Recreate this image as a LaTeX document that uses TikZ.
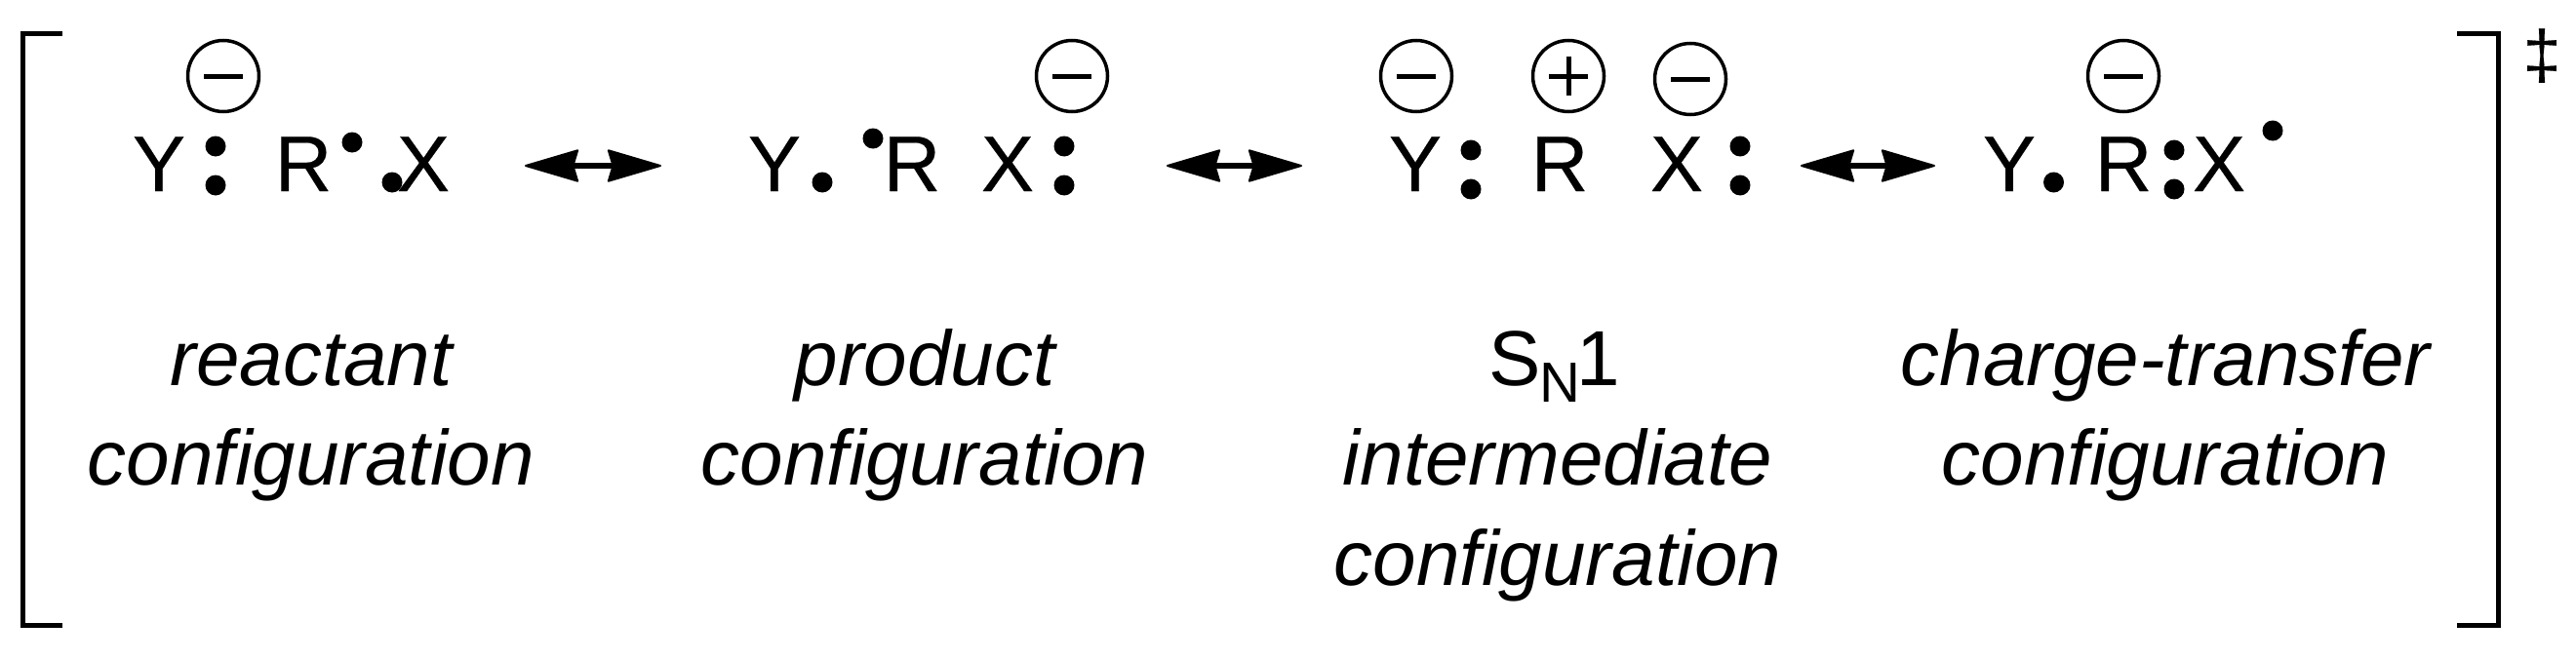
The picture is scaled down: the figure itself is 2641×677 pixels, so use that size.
\documentclass[tikz,border=0pt]{standalone}
\usepackage{fontspec}
\setmainfont{Liberation Sans}
\newfontfamily\atomfont[FakeBold=0.25]{Liberation Sans}
\usetikzlibrary{arrows.meta}
\tikzset{
  x=1pt,y=-1pt,
  atom/.style={anchor=base,inner sep=0pt,outer sep=0pt,font=\atomfont\fontsize{81}{81}\selectfont},
  lbl/.style={anchor=base,inner sep=0pt,outer sep=0pt,font=\fontsize{80}{80}\selectfont\itshape},
  lblr/.style={anchor=base,inner sep=0pt,outer sep=0pt,font=\fontsize{80}{80}\selectfont},
  edot/.style={fill=black,draw=none,circle,minimum size=21pt,inner sep=0pt,outer sep=0pt},
  chg/.style={draw=black,line width=3.5pt,circle,minimum size=73pt,inner sep=0pt,outer sep=0pt},
  brk/.style={draw=black,line width=5pt,line cap=butt},
  res/.style={draw=black,line width=5.5pt,
    {Stealth[length=58pt,width=34pt,inset=5pt,line width=2pt,round]}-{Stealth[length=58pt,width=34pt,inset=5pt,line width=2pt,round]}},
}
\newcommand{\minussign}[1]{\draw[line width=5pt] ([xshift=-20pt]#1.center) -- ([xshift=20pt]#1.center);}
\begin{document}
\begin{tikzpicture}
\useasboundingbox (0,0) rectangle (2641,677);
% brackets
\coordinate (lt) at (64,35); \coordinate (lc1) at (23,35); \coordinate (lc2) at (23,641); \coordinate (lb) at (64,641);
\draw[brk] (lt) -- (lc1) -- (lc2) -- (lb);
\coordinate (rt) at (2519,35); \coordinate (rc1) at (2561,35); \coordinate (rc2) at (2561,641); \coordinate (rb) at (2519,641);
\draw[brk] (rt) -- (rc1) -- (rc2) -- (rb);
\node[anchor=base,inner sep=0pt,font=\atomfont\fontsize{70}{70}\selectfont] (dd) at (2606,80) {‡};
% group 1
\node[atom] (y1) at (163,196) {Y};
\node[atom] (r1) at (311,196) {R};
\node[atom] (x1) at (434,196) {X};
\node[edot] (d11) at (221,150) {}; \node[edot] (d12) at (221,190) {};
\node[edot] (d13) at (361,146) {}; \node[edot] (d14) at (402,187) {};
\node[chg] (c1) at (229,78) {}; \minussign{c1}
% group 2
\node[atom] (y2) at (794,196) {Y};
\node[atom] (r2) at (935,196) {R};
\node[atom] (x2) at (1033,196) {X};
\node[edot] (d21) at (843,187) {}; \node[edot] (d22) at (895,142) {};
\node[edot] (d23) at (1091,150) {}; \node[edot] (d24) at (1091,190) {};
\node[chg] (c2) at (1099,78) {}; \minussign{c2}
% group 3
\node[atom] (y3) at (1451,196) {Y};
\node[atom] (r3) at (1599,196) {R};
\node[atom] (x3) at (1719,196) {X};
\node[edot] (d31) at (1508,154) {}; \node[edot] (d32) at (1508,194) {};
\node[edot] (d33) at (1784,150) {}; \node[edot] (d34) at (1784,190) {};
\node[chg] (c3) at (1452,78) {}; \minussign{c3}
\node[chg] (c4) at (1608,78) {}; \minussign{c4}
\draw[line width=5pt] ([yshift=-20pt]c4.center) -- ([yshift=20pt]c4.center);
\node[chg] (c5) at (1733,81) {}; \minussign{c5}
% group 4
\node[atom] (y4) at (2060,196) {Y};
\node[atom] (r4) at (2177,196) {R};
\node[atom] (x4) at (2275,196) {X};
\node[edot] (d41) at (2105.5,187) {};
\node[edot] (d42) at (2229,154) {}; \node[edot] (d43) at (2229,194) {};
\node[edot] (d44) at (2330,134) {};
\node[chg] (c6) at (2177,78) {}; \minussign{c6}
% arrows
\coordinate (a1l) at (538,170); \coordinate (a1r) at (678,170);
\coordinate (a2l) at (1196,170); \coordinate (a2r) at (1335,170);
\coordinate (a3l) at (1846,170); \coordinate (a3r) at (1984,170);
\draw[res] (a1l) -- (a1r);
\draw[res] (a2l) -- (a2r);
\draw[res] (a3l) -- (a3r);
% labels
\node[lbl] (l1a) at (319,395) {reactant};
\node[lbl] (l1b) at (319,497.5) {configuration};
\node[lbl] (l2a) at (948,395) {product};
\node[lbl] (l2b) at (948,497.5) {configuration};
\node[lblr] (l3a) at (1594,395) {S\kern-2pt\raisebox{-17pt}{\fontsize{58}{58}\selectfont N}\kern-3pt 1};
\node[lbl] (l3b) at (1597,497.5) {intermediate};
\node[lbl] (l3c) at (1597,600) {configuration};
\node[lbl] (l4a) at (2220,395) {charge-transfer};
\node[lbl] (l4b) at (2220,497.5) {configuration};
\end{tikzpicture}
\end{document}
